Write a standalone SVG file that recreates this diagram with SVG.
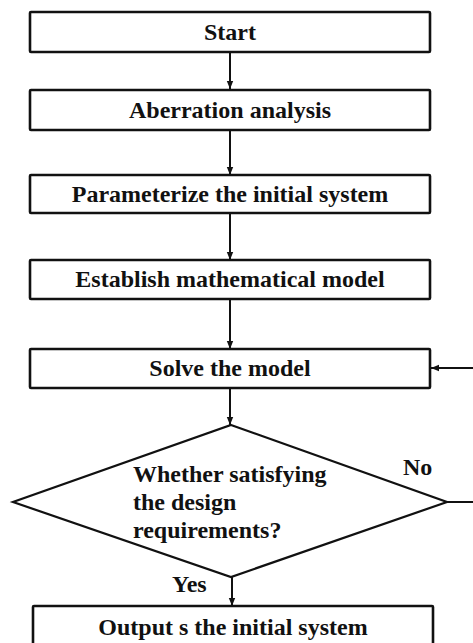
<svg xmlns="http://www.w3.org/2000/svg" width="473" height="643" viewBox="0 0 473 643">
<style>
.box{fill:#fff;stroke:#111;stroke-width:2.6}
.dia{fill:#fff;stroke:#111;stroke-width:2.2}
.t{font-family:"Liberation Serif","Times New Roman",serif;font-weight:bold;font-size:24px;fill:#111}
.c{text-anchor:middle}
.ln{stroke:#111;stroke-width:2;fill:none}
</style>
<defs>
<marker id="ah" viewBox="0 0 10 10" refX="10" refY="5" markerWidth="8" markerHeight="8" markerUnits="userSpaceOnUse" orient="auto">
<path d="M0,1 L10,5 L0,9 Z" fill="#111"/>
</marker>
</defs>
<rect width="473" height="643" fill="#fff"/>
<g id="connectors">
<line class="ln" x1="230" y1="52" x2="230" y2="89" marker-end="url(#ah)"/>
<line class="ln" x1="230" y1="130" x2="230" y2="175" marker-end="url(#ah)"/>
<line class="ln" x1="230" y1="213" x2="230" y2="260" marker-end="url(#ah)"/>
<line class="ln" x1="230" y1="299" x2="230" y2="349" marker-end="url(#ah)"/>
<line class="ln" x1="230" y1="388" x2="230" y2="425" marker-end="url(#ah)"/>
<line class="ln" x1="232" y1="577" x2="232" y2="606" marker-end="url(#ah)"/>
<line class="ln" x1="447" y1="502" x2="473" y2="502"/>
<line class="ln" x1="473" y1="368" x2="431" y2="368" marker-end="url(#ah)"/>
<text class="t" x="403" y="475">No</text>
<text class="t" x="172" y="592">Yes</text>
</g>
<g id="start"><rect class="box" x="30" y="12" width="400" height="40" rx="1"/><text class="t c" x="230" y="40">Start</text></g>
<g id="aberration"><rect class="box" x="30" y="90" width="400" height="40" rx="1"/><text class="t c" x="230" y="118">Aberration analysis</text></g>
<g id="parameterize"><rect class="box" x="30" y="175" width="400" height="38" rx="1"/><text class="t c" x="230" y="202">Parameterize the initial system</text></g>
<g id="establish"><rect class="box" x="30" y="260" width="400" height="39" rx="1"/><text class="t c" x="230" y="287">Establish mathematical model</text></g>
<g id="solve"><rect class="box" x="30" y="349" width="400" height="39" rx="1"/><text class="t c" x="230" y="376">Solve the model</text></g>
<g id="decision"><polygon class="dia" points="231,425 447,502 231,577 13,502"/>
<text class="t" x="133" y="482">Whether satisfying</text>
<text class="t" x="133" y="510">the design</text>
<text class="t" x="133" y="538">requirements?</text></g>
<g id="output"><rect class="box" x="33" y="606" width="400" height="45" rx="1"/><text class="t c" x="233" y="635">Output s the initial system</text></g>
</svg>
